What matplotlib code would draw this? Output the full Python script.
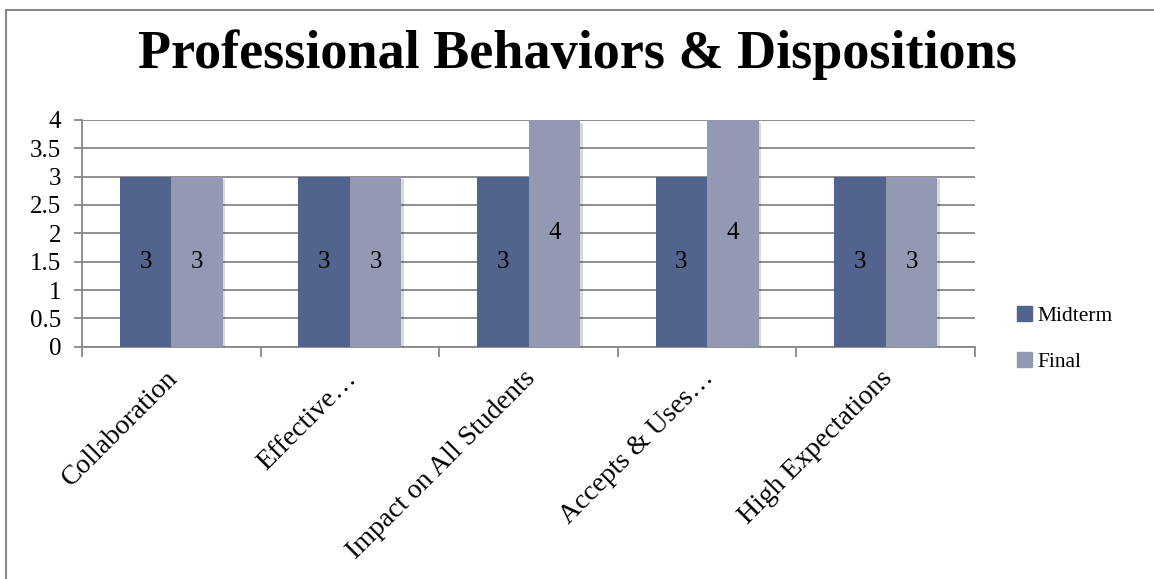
import numpy as np
import matplotlib.pyplot as plt
from matplotlib.patches import Rectangle, Patch
import matplotlib.transforms as mtransforms
import matplotlib.patheffects as pe

# chart data
categories = ["Collaboration", "Effective\u2026", "Impact on All Students",
              "Accepts & Uses\u2026", "High Expectations"]
midterm = [3, 3, 3, 3, 3]
final = [3, 3, 4, 4, 3]
yticks = [0, 0.5, 1, 1.5, 2, 2.5, 3, 3.5, 4]
ytick_labels = ["0", "0.5", "1", "1.5", "2", "2.5", "3", "3.5", "4"]

plt.rcParams['font.family'] = ['Liberation Serif', 'DejaVu Serif']

fig = plt.figure(figsize=(11.54, 5.79), dpi=100)
ax = fig.add_axes([0.071, 0.401, 0.774, 0.392])

grey = '#878787'
c_mid = '#52648d'
c_fin = '#9399b3'

x = np.arange(len(categories))
w = 0.288
shadow = [pe.SimplePatchShadow(offset=(2, -2), shadow_rgbFace='#000000', alpha=0.15),
          pe.Normal()]
b1 = ax.bar(x - w / 2, midterm, w, color=c_mid, zorder=3)
b2 = ax.bar(x + w / 2, final, w, color=c_fin, zorder=3)
for r in list(b2) + list(b1):
    r.set_path_effects(shadow)

# value labels in the middle of each bar
for bars, vals in ((b1, midterm), (b2, final)):
    for r, v in zip(bars, vals):
        ax.text(r.get_x() + r.get_width() / 2, v / 2, str(v),
                ha='center', va='center', fontsize=18, zorder=4)

ax.set_xlim(-0.5, len(categories) - 0.5)
ax.set_ylim(0, 4)
ax.set_yticks(yticks)
ax.set_yticklabels(ytick_labels, fontsize=18)
ax.yaxis.grid(True, color=grey, linewidth=1.3, zorder=0)
ax.tick_params(axis='y', length=6, width=1.3, color=grey, pad=9)

# x ticks at category boundaries, labels at centres
ax.set_xticks(np.arange(-0.5, len(categories)), minor=False)
ax.set_xticklabels([])
ax.tick_params(axis='x', length=7, width=1.3, color=grey)
ax.set_xticks(x, minor=True)
ax.set_xticklabels(categories, minor=True, rotation=45, ha='right',
                   va='center', rotation_mode='anchor', fontsize=20)
ax.tick_params(axis='x', which='minor', length=0, pad=20)
offset = mtransforms.ScaledTranslation(3 / 100, 0, fig.dpi_scale_trans)
for lab in ax.get_xticklabels(minor=True):
    lab.set_transform(lab.get_transform() + offset)

for s in ['top', 'right']:
    ax.spines[s].set_visible(False)
for s in ['left', 'bottom']:
    ax.spines[s].set_color(grey)
    ax.spines[s].set_linewidth(1.3)

fig.text(0.5, 0.905, "Professional Behaviors & Dispositions",
         ha='center', va='center', fontsize=39, fontweight='bold')

handles = [Patch(color=c_mid), Patch(color=c_fin)]
fig.legend(handles=handles, labels=['Midterm', 'Final'],
           loc='center left', bbox_to_anchor=(0.872, 0.4145), frameon=False,
           fontsize=15.5, handlelength=0.7, handleheight=0.7,
           handletextpad=0.25, labelspacing=1.2, borderpad=0)

# outer chart border (cropped at right and bottom)
fig.patches.append(Rectangle((6 / 1154, -0.1), 1.2, 1.1 - 10 / 579,
                             transform=fig.transFigure, fill=False,
                             edgecolor=grey, linewidth=1.5))

fig.savefig('out.png', dpi=100)
